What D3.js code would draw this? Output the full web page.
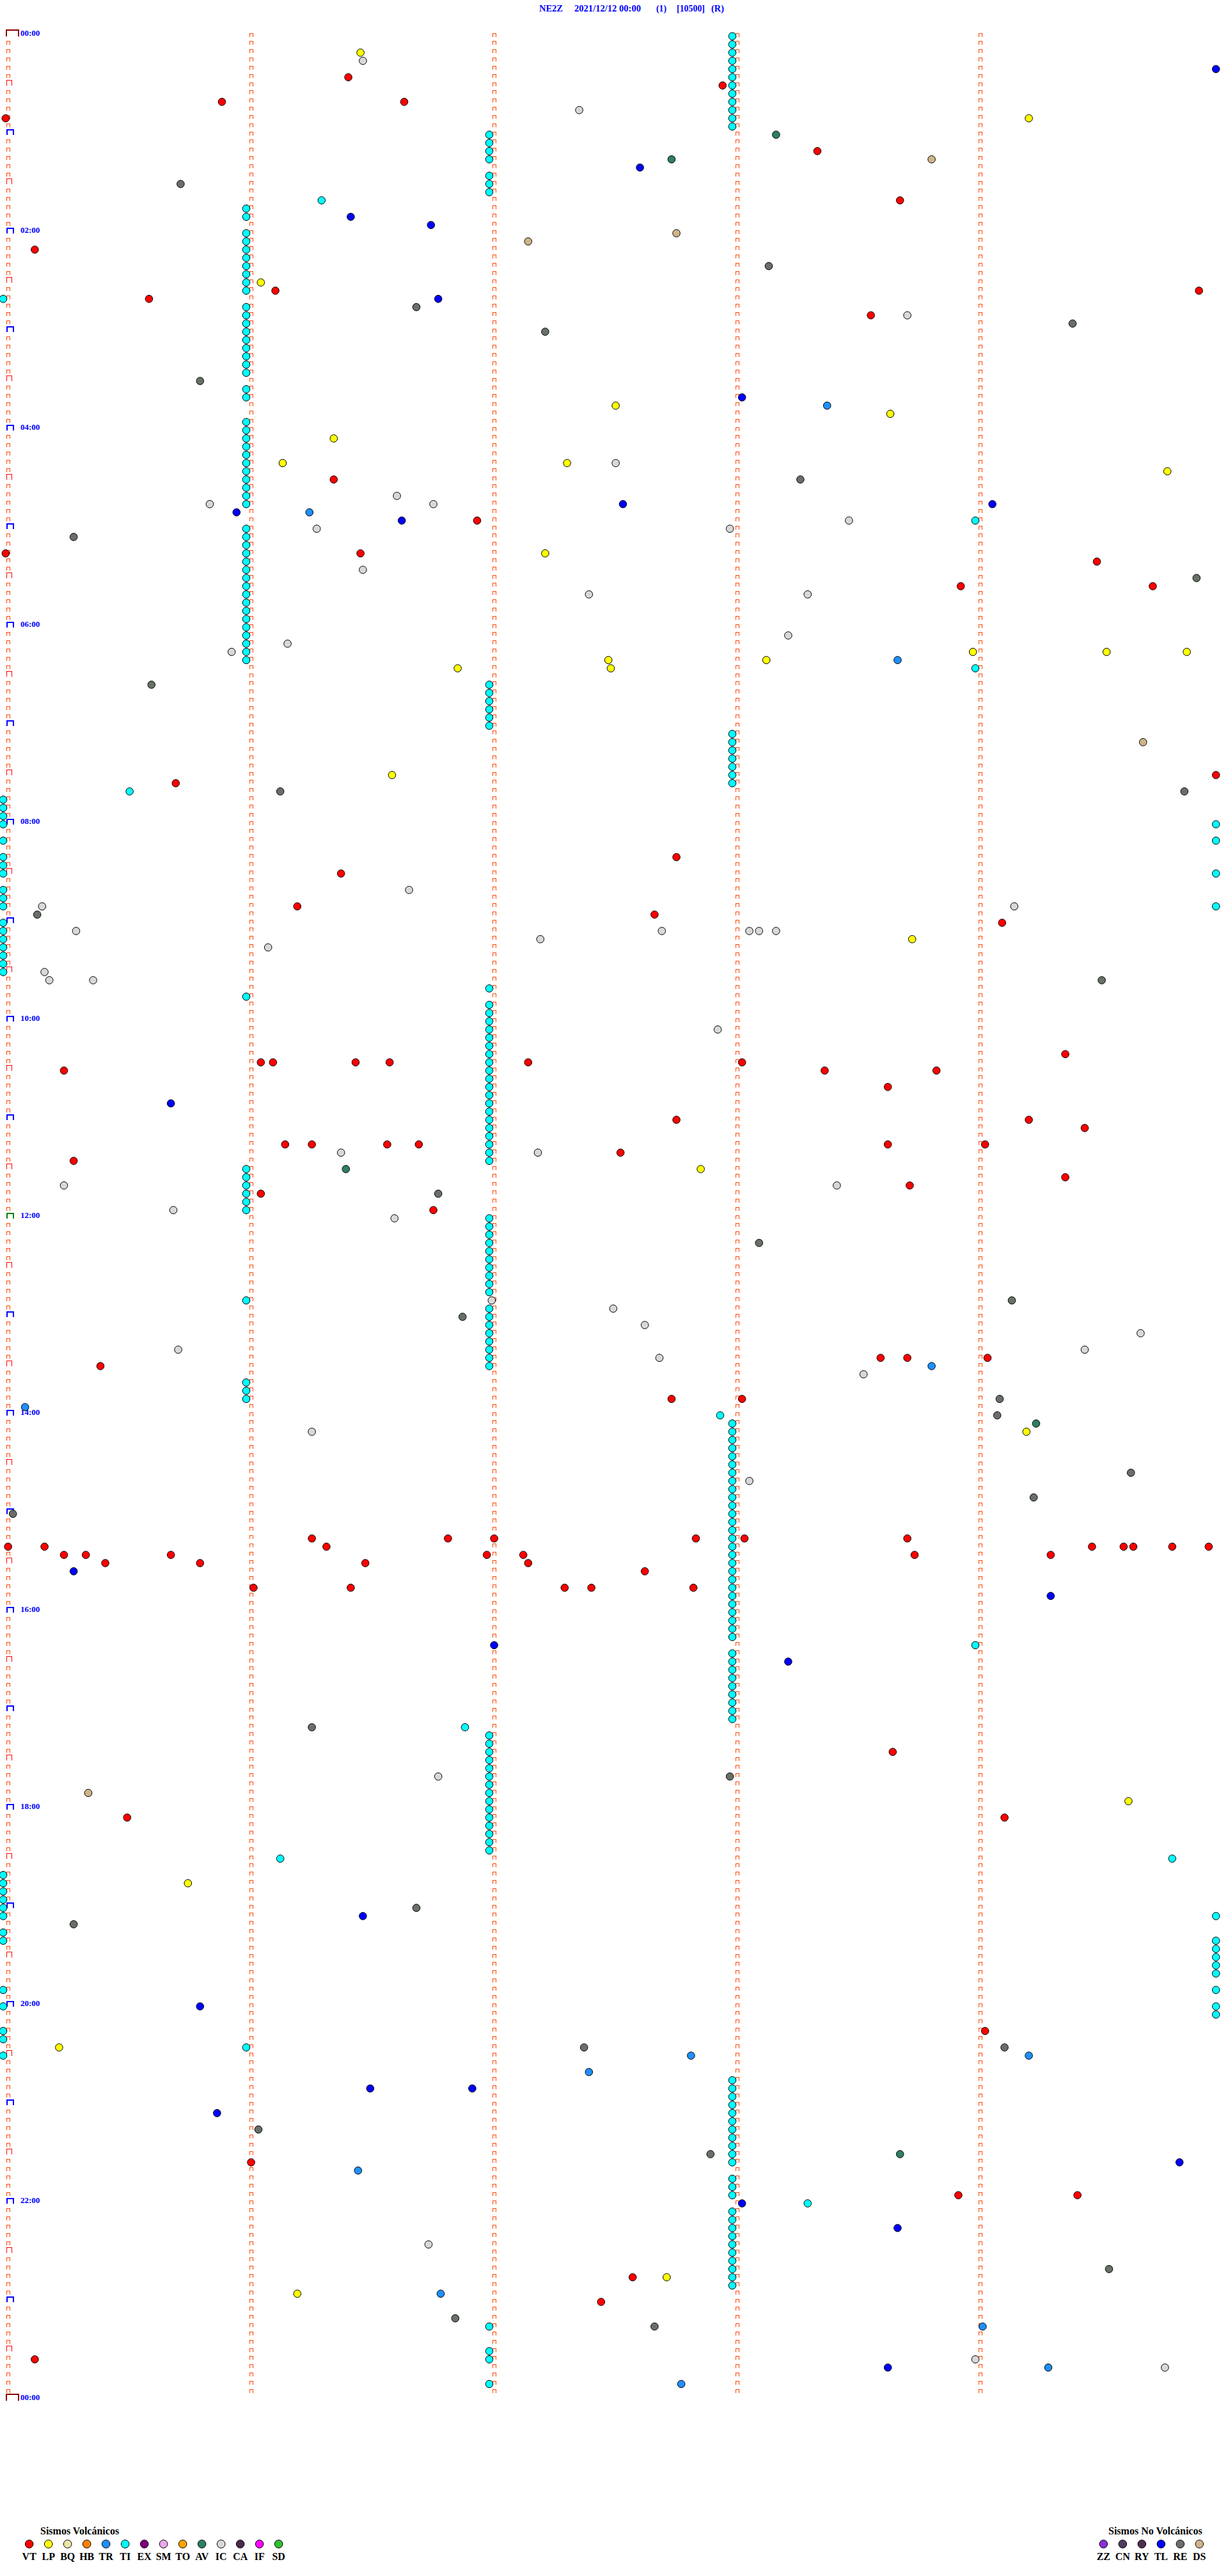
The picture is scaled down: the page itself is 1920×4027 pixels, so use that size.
<!DOCTYPE html>
<html><head><meta charset="utf-8">
<script src="https://cdn.jsdelivr.net/npm/d3@7"></script>
<style>body{margin:0;background:#fff}svg{display:block}</style>
</head><body>
<script>
// ---- DATA: event times in minutes after 00:00 (2021/12/12) ----
const VT = [26.42,32.96,40.90,41.65,50.01,73.35,103.69,130.13,156.12,159.92,160.60,173.57,271.36,296.95,315.01,316.47,324.50,338.94,339.73,454.99,455.71,502.77,511.39,531.21,537.68,544.11,624.37,626.06,626.11,626.45,626.59,627.16,628.04,630.25,633.38,633.84,643.64,662.77,664.22,669.45,676.16,676.27,676.58,676.71,678.64,679.04,682.54,685.29,699.37,703.73,706.06,716.77,808.61,808.72,809.05,810.40,832.75,833.04,916.27,916.83,917.02,917.85,918.05,918.72,920.02,920.17,921.33,924.48,924.61,924.65,924.81,924.96,925.25,925.34,925.69,926.99,927.14,928.75,929.31,930.42,930.81,931.49,932.16,937.64,946.03,946.43,947.31,947.42,947.84,1048.66,1085.51,1089.12,1219.04,1296.02,1318.93,1319.42,1367.59,1382.46,1415.13];
const LP = [11.47,54.22,151.06,227.52,233.65,246.36,261.15,262.32,269.79,317.23,378.99,379.54,379.87,382.49,383.14,386.87,387.50,451.60,553.74,692.87,854.21,1079.63,1125.76,1225.23,1367.73,1376.21];
const TR = [228.39,291.26,383.68,813.82,835.09,1232.83,1234.22,1242.41,1301.46,1376.80,1399.03,1424.30,1432.79];
const TI = [3,8,13,18,23,28,33,38,43,48,53,58,62,67,72,77,87,92,97,101.31,106,111,121,126,131,136,141,146,151,156,160.0,166,171,176,181,186,191,196,201,206,216,221,236,241,246,251,256,261,266,271,276,281,286,299.0,301,306,311,316,321,326,331,336,341,346,351,356,361,366,371,376,381,389.0,397,402,407,412,417,422,428,433,438,443,448,453,458,460.52,465,470,475,480,484.99,490,494.99,500,505,510,514.99,520,525,530,534.99,540,545,550,555,560,565,570,582,586.0,592,597,602,607,612,617,622,627,632,637,642,647,652,657,662,667,672,677,682,687,691,696,701,706,711,716,722,727,732,737,742,747,752,757,762,767,771.0,777,782,787,792,797,802,807,812,821,826,831,842.95,848,853,858,863,868,873,878,883,888,893,898,903,908,913,918,923,928,933,938,943,948,953,958,963,968,973,978,984.0,988,993,998,1003,1008,1013,1018,1023,1028,1031.9,1037,1042,1047,1052,1057,1062,1067,1072,1077,1082,1087,1092,1097,1102,1107,1111.14,1114.81,1120,1125,1130,1135,1140,1145,1149.99,1155,1160,1164.99,1169.99,1174.99,1179.99,1184.99,1190,1194.99,1200,1204.99,1209.99,1215,1220,1226.0,1230,1248,1253,1258,1263,1268,1273,1278,1283,1288,1293,1298,1308,1313,1318,1323.31,1328,1333,1338,1343,1348,1353,1358,1363,1368,1373,1397,1412,1417,1432];
const AV = [63.18,77.75,691.41,849.25,1293.69];
const IC = [16.48,47.37,173.72,262.52,281.62,285.85,286.77,298.48,301.29,302.99,326.48,342.41,343.31,368.23,371.17,375.94,521.67,530.16,534.16,545.30,547.71,548.07,548.11,548.18,552.21,556.09,570.17,575.19,575.37,607.94,681.39,682.20,700.25,703.43,715.70,721.61,772.01,777.51,787.64,794.68,800.72,804.45,807.70,818.54,851.27,883.07,1061.79,1346.75,1419.00,1424.78];
const TL = [24.99,82.62,111.43,116.76,161.79,223.04,287.55,289.07,290.96,296.64,650.69,935.29,954.31,982.02,993.23,1146.48,1200.81,1251.51,1251.93,1265.88,1299.84,1323.04,1338.68,1423.64];
const RE = [90.73,143.15,166.70,179.40,182.23,210.81,273.28,305.29,334.91,395.61,461.14,464.86,535.14,579.52,706.79,738.11,774.15,781.89,834.10,844.09,879.64,894.24,900.04,1031.27,1062.99,1141.70,1150.29,1227.39,1229.12,1276.05,1292.91,1364.55,1391.86,1397.68];
const DS = [78.82,122.77,127.16,434.69,1070.35];

const volcanicCodes = ["VT","LP","BQ","HB","TR","TI","EX","SM","TO","AV","IC","CA","IF","SD"];
const volcanicColors = ["#FF0000","#FFFF00","#EEE4A8","#FF8000","#1E90FF","#00FFFF","#800080","#E8A8E8","#FFA500","#2E8060","#D8D8D8","#4A2A48","#FF00FF","#30C030"];
const nonVolcanicCodes = ["ZZ","CN","RY","TL","RE","DS"];
const nonVolcanicColors = ["#8A30D8","#4E3E5E","#4E2E4E","#0000FF","#687068","#D0B488"];
const hourLabels = ["00:00","02:00","04:00","06:00","08:00","10:00","12:00","14:00","16:00","18:00","20:00","22:00","00:00"];
const titleParts = ["NE2Z","2021/12/12 00:00","(1)","[10500]","(R)"];

// ---- LAYOUT ----
const W = 1920, H = 4027;
const ROWS = 288, ROW_MIN = 5;
const colorOf = {};
volcanicCodes.forEach((c,i)=>colorOf[c]=volcanicColors[i]);
nonVolcanicCodes.forEach((c,i)=>colorOf[c]=nonVolcanicColors[i]);

const svg = d3.select("body").append("svg").attr("width",W).attr("height",H)
  .style("font-family","'Liberation Serif','Times New Roman',serif");

const yRow = d3.scaleLinear().domain([0, ROWS]).range([56.6, 56.6 + 12.833*ROWS]);
const xMin = d3.scaleLinear().domain([0, ROW_MIN]).range([5, 1905]);

// title
const titleX = [843, 898, 1026, 1058, 1112];
const titleW = [37, 104, 16, 44, 20];
svg.append("g").selectAll("text").data(titleParts).join("text")
  .attr("x",(d,i)=>titleX[i]).attr("y",18.3)
  .attr("textLength",(d,i)=>titleW[i]).attr("lengthAdjust","spacingAndGlyphs")
  .attr("font-size",15).attr("font-weight","bold").attr("fill","#0000FF").text(d=>d);

// minute tick markers
const gm = svg.append("g").attr("shape-rendering","crispEdges").attr("fill","none");
const bracket = (x,yb,w,h)=>`M${x},${yb} V${yb-h} H${x+w} V${yb}`;
for (let k=0;k<5;k++){
  const nRows = k===0 ? ROWS+1 : ROWS;
  for (let r=0;r<nRows;r++){
    const x0 = Math.round(xMin(k))+5.5;
    const yb = yRow(r);
    if (k===0 && (r===0 || r===ROWS)){
      gm.append("path").attr("d",`M${x0-0.5},${yb} V${yb-9.8} H${x0+18.5} V${yb}`)
        .attr("stroke","#8B0000").attr("stroke-width",2);
    } else if (k===0 && r%12===0){
      gm.append("path").attr("d",bracket(x0,yb,10,7.5))
        .attr("stroke", r===144 ? "#008000" : "#0000FF").attr("stroke-width",2);
    } else if (k===0 && r%6===0){
      gm.append("path").attr("d",bracket(x0,yb,8,8))
        .attr("stroke","#FF0000").attr("stroke-width",1);
    } else {
      gm.append("path").attr("d",bracket(x0,Math.round(yb)+0.5,5,5))
        .attr("stroke","#FF4500").attr("stroke-width",1);
    }
  }
}
// hour labels
svg.append("g").selectAll("text").data(hourLabels).join("text")
  .attr("x",32).attr("y",(d,i)=>yRow(i*24)-0.5)
  .attr("font-size",13).attr("font-weight","bold").attr("fill","#0000FF").text(d=>d);

// events
const series = {VT,LP,TR,TI,AV,IC,TL,RE,DS};
const events = [];
Object.entries(series).forEach(([code,arr])=>arr.forEach(t=>events.push({code,t})));
events.sort((a,b)=>a.t-b.t);
svg.append("g").selectAll("circle").data(events).join("circle")
  .attr("cx",d=>{const r=Math.floor(d.t/ROW_MIN+1e-9); return xMin(d.t - r*ROW_MIN);})
  .attr("cy",d=>yRow(Math.floor(d.t/ROW_MIN+1e-9)))
  .attr("r",5.8).attr("fill",d=>colorOf[d.code]).attr("stroke","#000").attr("stroke-width",1);

// legends
function legend(title, codes, x0, titleX){
  const g = svg.append("g");
  g.append("text").attr("x",titleX).attr("y",3962).attr("font-size",16).attr("font-weight","bold")
    .attr("fill","#000").text(title);
  const xs = d3.scalePoint().domain(codes).range([x0, x0+30*(codes.length-1)]);
  g.selectAll("circle").data(codes).join("circle")
    .attr("cx",d=>xs(d)).attr("cy",3977).attr("r",6.3)
    .attr("fill",d=>colorOf[d]).attr("stroke","#000").attr("stroke-width",1);
  g.selectAll("text.l").data(codes).join("text").attr("class","l")
    .attr("x",d=>xs(d)).attr("y",4002).attr("text-anchor","middle")
    .attr("font-size",16).attr("font-weight","bold").attr("fill","#000").text(d=>d);
}
legend("Sismos Volcánicos", volcanicCodes, 45.7, 63);
legend("Sismos No Volcánicos", nonVolcanicCodes, 1725.3, 1733);
</script>
</body></html>
